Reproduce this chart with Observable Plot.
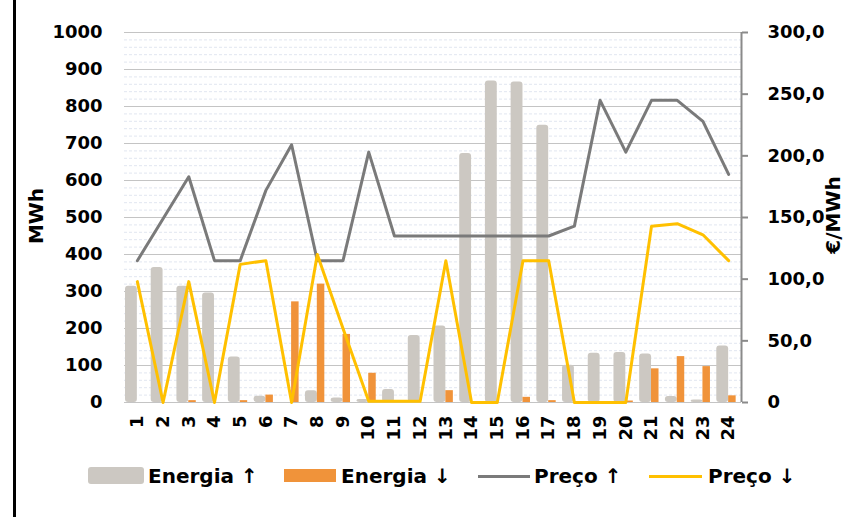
<!DOCTYPE html>
<html>
<head>
<meta charset="utf-8">
<script src="https://cdn.jsdelivr.net/npm/d3@7"></script>
<script src="https://cdn.jsdelivr.net/npm/@observablehq/plot@0.6"></script>
<style>
  html, body { margin: 0; padding: 0; background: #fff; }
  #wrap { position: relative; width: 865px; height: 517px; overflow: hidden; background: #fff;
          font-family: "DejaVu Sans", sans-serif; font-weight: bold; color: #000; }
  #chart { position: absolute; left: 0; top: 0; }
  .border { position: absolute; left: 13px; top: 0; width: 3px; height: 517px; background: #000; }
  .atitle { position: absolute; font-size: 20px; line-height: 20px; white-space: nowrap;
            transform: translate(-50%, -50%) rotate(-90deg); }
  .leg { position: absolute; font-size: 20px; line-height: 20px; white-space: nowrap; }
  .sw { position: absolute; }
</style>
</head>
<body>
<div id="wrap">
  <div class="border"></div>
  <div id="chart"></div>
  <div class="atitle" style="left:36px; top:216px;">MWh</div>
  <div class="atitle" style="left:833px; top:215px;">€/MWh</div>
  <div id="legend"></div>
</div>
<script>
// ---- data ----
const hours = ["1","2","3","4","5","6","7","8","9","10","11","12","13","14","15","16","17","18","19","20","21","22","23","24"];
const energiaUp   = [314,365,314,296,123,17,0,32,12,8,35,181,207,673,869,866,749,101,133,135,131,16,7,153];
const energiaDown = [0,0,5,0,5,20,272,320,184,79,0,0,32,0,0,14,5,0,0,4,91,124,97,18];
const precoUp     = [115,149,183,115,115,172,209,115,115,203,135,135,135,135,135,135,135,143,245,203,245,245,228,185];
const precoDown   = [98,0,98,0,112,115,0,120,60,1,1,1,115,0,0,115,115,0,0,0,143,145,136,115];
const mwhTicks = [0,100,200,300,400,500,600,700,800,900,1000];
const priceTicks = [0,50,100,150,200,250,300];
const seriesNames = ["Energia ↑","Energia ↓","Preço ↑","Preço ↓"];
const colors = ["#ccc8c2","#f0933a","#7a7a7a","#ffc000"];

// ---- derived ----
const k = 1000 / 300; // price -> MWh scale
const rows = hours.map((h, i) => ({h, up: energiaUp[i], down: energiaDown[i], pUp: precoUp[i] * k, pDown: precoDown[i] * k}));
const minorTicks = d3.range(0, 1001, 20).filter(v => v % 100 !== 0);

const W = 865, H = 450, mL = 124, mR = 124, mT = 32, mB = 48;
const bw = (W - mL - mR) / hours.length;

const plot = Plot.plot({
  width: W, height: H,
  marginLeft: mL, marginRight: mR, marginTop: mT, marginBottom: mB,
  style: {fontFamily: "DejaVu Sans, sans-serif", fontSize: "18px", fontWeight: "bold", color: "#000", background: "transparent", overflow: "visible"},
  x: {domain: hours, padding: 0, round: false},
  y: {domain: [0, 1000]},
  marks: [
    Plot.gridY({ticks: minorTicks, stroke: "#e1e6f0", strokeOpacity: 1, strokeDasharray: "3,2"}),
    Plot.gridY({ticks: mwhTicks, stroke: "#c4c4c4", strokeOpacity: 1}),
    Plot.axisY({ticks: mwhTicks, tickSize: 0, tickPadding: 22, label: null, tickFormat: d => String(d)}),
    Plot.axisY({anchor: "right", ticks: priceTicks.map(p => p * k), tickSize: 6, tickPadding: 20, stroke: "#8a8a8a", strokeWidth: 2, label: null,
      tickFormat: d => { const p = Math.round(d / k * 10) / 10; return p === 0 ? "0" : p.toFixed(1).replace(".", ","); }}),
    Plot.ruleX([hours[hours.length - 1]], {dx: bw / 2, y1: 0, y2: 1000, stroke: "#8a8a8a", strokeWidth: 2}),
    Plot.axisX({tickSize: 0, tickPadding: 13, tickRotate: -90, label: null}),
    Plot.rectY(rows, {x: "h", y: "up", fill: colors[0], insetLeft: 1, insetRight: bw / 2, rx: 3}),
    Plot.rectY(rows, {x: "h", y: "down", fill: colors[1], insetLeft: bw / 2, insetRight: bw / 2 - 7.5}),
    Plot.lineY(rows, {x: "h", y: "pUp", stroke: colors[2], strokeWidth: 3}),
    Plot.lineY(rows, {x: "h", y: "pDown", stroke: colors[3], strokeWidth: 3})
  ]
});
document.getElementById("chart").appendChild(plot);

// ---- legend ----
const leg = document.getElementById("legend");
const items = [
  {sw: {left: 88, top: 467, width: 56, height: 17, radius: 3}, tx: 148},
  {sw: {left: 284, top: 469, width: 52, height: 13, radius: 0}, tx: 341},
  {sw: {left: 478, top: 475, width: 52, height: 3, radius: 0}, tx: 534},
  {sw: {left: 649, top: 475, width: 53, height: 3, radius: 0}, tx: 708}
];
items.forEach((it, i) => {
  const s = document.createElement("div");
  s.className = "sw";
  Object.assign(s.style, {left: it.sw.left + "px", top: it.sw.top + "px", width: it.sw.width + "px", height: it.sw.height + "px",
    background: colors[i], borderRadius: it.sw.radius + "px"});
  leg.appendChild(s);
  const t = document.createElement("div");
  t.className = "leg";
  t.style.left = it.tx + "px";
  t.style.top = "466px";
  t.textContent = seriesNames[i];
  leg.appendChild(t);
});
</script>
</body>
</html>
